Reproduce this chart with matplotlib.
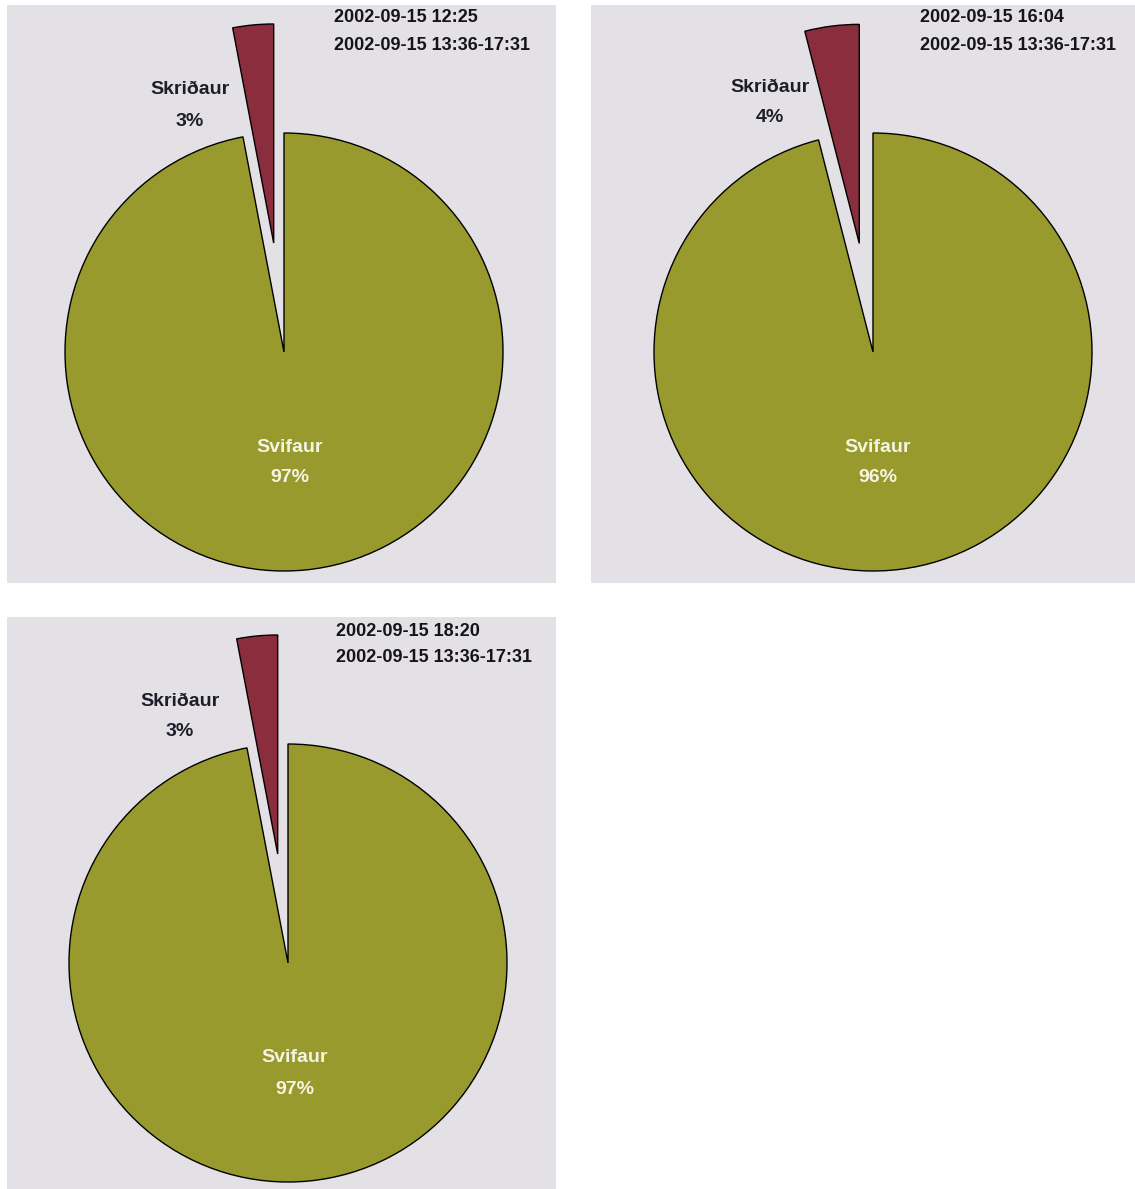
import matplotlib
matplotlib.use("Agg")
import matplotlib.pyplot as plt

# data
times = ['2002-09-15 12:25', '2002-09-15 16:04', '2002-09-15 18:20']
period = '2002-09-15 13:36-17:31'
categories = ['Svifaur', 'Skriðaur']
svifaur = [97, 96, 97]
skridaur = [3, 4, 3]

plt.rcParams['font.family'] = ['Liberation Sans', 'DejaVu Sans']

W, H = 1135, 1189
R = 219.0   # pie radius in px

bg = '#e3e0e6'
green = '#999a2e'
red = '#8a2d3d'

# panel boxes (px, top-left origin) and pie centre
panels = [
    dict(box=(7, 556, 5, 583), c=(284, 352),
         lab=(190, 90, 121), date=(334, 18, 45), main=(290, 447, 478)),
    dict(box=(591, 1135, 5, 583), c=(873, 352),
         lab=(770, 87, 117), date=(920, 18, 45), main=(878, 447, 478)),
    dict(box=(7, 556, 617, 1189), c=(288, 963),
         lab=(180, 701, 731), date=(336, 632, 658), main=(295, 1057, 1089)),
]

fig = plt.figure(figsize=(W/100, H/100), dpi=100)
fig.patch.set_facecolor('white')

for i, p in enumerate(panels):
    x0, x1, y0, y1 = p['box']
    cx, cy = p['c']
    ax = fig.add_axes([x0/W, 1 - y1/H, (x1-x0)/W, (y1-y0)/H])

    def d(px, py):
        return (px - cx)/R, (cy - py)/R

    vals = [svifaur[i], skridaur[i]]
    ax.pie(vals, explode=(0, 0.5), colors=[green, red], startangle=90,
           counterclock=False, radius=1,
           wedgeprops=dict(edgecolor='black', linewidth=1.0))
    ax.set_aspect('auto')
    ax.set_xlim((x0-cx)/R, (x1-cx)/R)
    ax.set_ylim((cy-y1)/R, (cy-y0)/R)
    ax.set_frame_on(True)
    ax.set_facecolor(bg)
    ax.set_xticks([]); ax.set_yticks([])
    for s in ax.spines.values():
        s.set_visible(False)

    lx, ly1, ly2 = p['lab']
    ax.text(*d(lx, ly1), categories[1], ha='center', va='center',
            fontsize=14, fontweight='bold', color='#1e1e2a')
    ax.text(*d(lx, ly2), f"{skridaur[i]}%", ha='center', va='center',
            fontsize=14, fontweight='bold', color='#1e1e2a')

    mx, my1, my2 = p['main']
    ax.text(*d(mx, my1), categories[0], ha='center', va='center',
            fontsize=14, fontweight='bold', color='#f6f4e2')
    ax.text(*d(mx, my2), f"{svifaur[i]}%", ha='center', va='center',
            fontsize=14, fontweight='bold', color='#f6f4e2')

    tx, ty1, ty2 = p['date']
    ax.text(*d(tx, ty1), times[i], ha='left', va='center',
            fontsize=13, fontweight='bold', color='#151515')
    ax.text(*d(tx, ty2), period, ha='left', va='center',
            fontsize=13, fontweight='bold', color='#151515')

plt.savefig('out.png', dpi=100)
